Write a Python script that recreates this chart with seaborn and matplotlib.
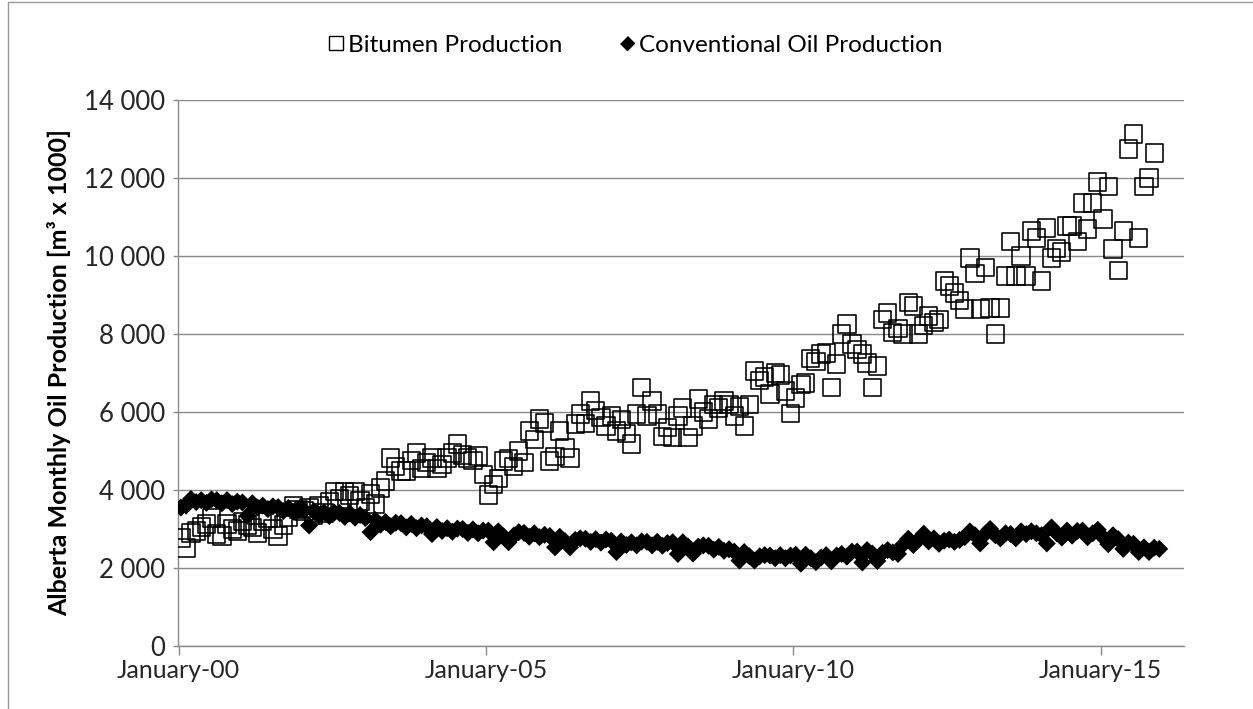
import numpy as np
import pandas as pd
import seaborn as sns
import matplotlib
matplotlib.use("Agg")
import matplotlib.pyplot as plt
import matplotlib.dates as mdates
from matplotlib.ticker import FuncFormatter, MultipleLocator
from matplotlib.lines import Line2D

# Alberta monthly production, thousand m3 (Jan 2000 onwards)
bitumen = [
    2770, 2510, 2900, 2950, 3050, 3130, 3280, 2870, 2820, 3130, 3000, 2950,
    3200, 3100, 3030, 2900, 3200, 3280, 3000, 2820, 3100, 3300, 3590, 3500,
    3460, 3540, 3350, 3600, 3410, 3700, 3970, 3770, 3970, 3850, 3970, 3720,
    3540, 3900, 3640, 4050, 4230, 4820, 4600, 4490, 4490, 4750, 4950, 4560,
    4700, 4820, 4560, 4650, 4820, 4950, 5180, 4900, 4820, 4750, 4870, 4400,
    3870, 4150, 4300, 4740, 4800, 4600, 5000, 4700, 5510, 5300, 5820, 5720,
    4740, 4850, 5510, 5080, 4820, 5690, 5950, 5700, 6280, 6030, 5850, 5640,
    5900, 5510, 5800, 5440, 5180, 5950, 6620, 5900, 6280, 5950, 5380, 5600,
    5340, 5900, 6100, 5340, 5640, 6330, 6000, 5820, 6200, 6100, 6280, 6200,
    5900, 6150, 5640, 6200, 7050, 6800, 6900, 6460, 7000, 6950, 6540, 5970,
    6360, 6700, 6740, 7380, 7300, 7490, 7510, 6620, 7230, 8000, 8260, 7740,
    7600, 7490, 7260, 6620, 7180, 8380, 8540, 8030, 8150, 8000, 8800, 8720,
    8000, 8210, 8460, 8300, 8380, 9360, 9230, 9050, 8850, 8640, 9950, 9560,
    8640, 9700, 8670, 8000, 8670, 9490, 10380, 9490, 10000, 9490, 10640, 10460,
    9360, 10720, 9950, 10200, 10100, 10770, 10770, 10380, 11360, 10690, 11360, 11900,
    10950, 11790, 10180, 9620, 10640, 12740, 13130, 10460, 11790, 12000, 12640,
]

conventional = [
    3550, 3600, 3770, 3690, 3740, 3670, 3760, 3740, 3660, 3740, 3640, 3700,
    3680, 3340, 3660, 3550, 3600, 3510, 3580, 3560, 3460, 3540, 3440, 3500,
    3480, 3090, 3460, 3350, 3430, 3330, 3420, 3410, 3310, 3400, 3290, 3360,
    3280, 2920, 3230, 3110, 3180, 3070, 3160, 3150, 3040, 3130, 3020, 3090,
    3070, 2870, 3050, 2950, 3020, 2930, 3010, 3000, 2900, 2990, 2890, 2960,
    2960, 2660, 2940, 2810, 2660, 2830, 2920, 2900, 2800, 2890, 2790, 2850,
    2820, 2530, 2800, 2690, 2530, 2720, 2760, 2750, 2670, 2740, 2650, 2730,
    2700, 2410, 2680, 2590, 2660, 2580, 2680, 2670, 2580, 2670, 2570, 2640,
    2660, 2360, 2660, 2550, 2370, 2550, 2580, 2570, 2470, 2540, 2440, 2480,
    2420, 2190, 2410, 2300, 2190, 2300, 2330, 2320, 2250, 2330, 2250, 2320,
    2340, 2110, 2340, 2250, 2150, 2270, 2330, 2170, 2320, 2360, 2290, 2420,
    2420, 2140, 2460, 2370, 2180, 2390, 2460, 2400, 2360, 2600, 2750, 2590,
    2730, 2880, 2680, 2760, 2620, 2700, 2730, 2670, 2720, 2790, 2940, 2840,
    2630, 2880, 3000, 2840, 2760, 2890, 2870, 2760, 2940, 2870, 2940, 2890,
    2840, 2630, 3040, 2890, 2780, 2960, 2830, 2950, 2960, 2790, 2890, 2980,
    2790, 2610, 2840, 2740, 2490, 2650, 2620, 2410, 2530, 2410, 2520, 2490,
]

series_labels = ["Bitumen Production", "Conventional Oil Production"]
x_tick_years = [2000, 2005, 2010, 2015]
y_label = "Alberta Monthly Oil Production [m\u00b3 x 1000]"

months = pd.date_range("2000-01-01", periods=len(conventional), freq="MS") + pd.Timedelta(days=14)
bit_df = pd.DataFrame({"month": months[:len(bitumen)], "value": bitumen})
con_df = pd.DataFrame({"month": months, "value": conventional})

sns.set_theme(style="white")
plt.rcParams["font.family"] = ["Lato", "DejaVu Sans"]
plt.rcParams["text.color"] = "black"

W, H = 1253, 709
fig = plt.figure(figsize=(W / 100, H / 100), dpi=100)
fig.patch.set_facecolor("white")
ax = fig.add_axes([178.5 / W, 1 - 646 / H, 1005.5 / W, 546 / H])

grid_c = "#8a8a8a"
diamond = [(0, 1), (1, 0), (0, -1), (-1, 0)]

sns.scatterplot(data=bit_df, x="month", y="value", ax=ax, marker="s", s=155,
                facecolor="none", edgecolor="black", linewidth=1.15, zorder=3)
sns.scatterplot(data=con_df, x="month", y="value", ax=ax, marker=diamond, s=168,
                color="black", edgecolor="none", linewidth=0, zorder=4)

ax.set_xlim(pd.Timestamp("2000-01-01"), pd.Timestamp("2016-05-10"))
ax.set_ylim(0, 14000)
ax.yaxis.set_major_locator(MultipleLocator(2000))
ax.yaxis.set_major_formatter(FuncFormatter(lambda v, p: f"{int(v):,}".replace(",", " ")))
ax.set_xticks([pd.Timestamp(f"{y}-01-01") for y in x_tick_years])
ax.xaxis.set_major_formatter(mdates.DateFormatter("%B-%y"))

ax.set_axisbelow(True)
ax.grid(axis="y", color=grid_c, linewidth=1.0)
ax.grid(axis="x", visible=False)
for side in ["top", "right"]:
    ax.spines[side].set_visible(False)
for side in ["left", "bottom"]:
    ax.spines[side].set_color(grid_c)
    ax.spines[side].set_linewidth(1.0)

ax.tick_params(axis="y", direction="out", length=3.6, width=1.0, color=grid_c,
               pad=6, labelsize=18.5, left=True)
ax.tick_params(axis="x", direction="out", length=6.3, width=1.0, color=grid_c,
               pad=3, labelsize=18, bottom=True)
ax.set_xlabel("")
ax.set_ylabel("")
fig.text(59 / W, 1 - 372 / H, y_label, rotation=90, ha="center", va="center",
         fontsize=18, fontweight="bold")

handles = [
    Line2D([], [], marker="s", linestyle="none", markerfacecolor="none",
           markeredgecolor="black", markeredgewidth=1.0, markersize=9.5),
    Line2D([], [], marker=diamond, linestyle="none", markerfacecolor="black",
           markeredgecolor="black", markersize=10),
]
fig.legend(handles, series_labels, loc="center", bbox_to_anchor=(0.507, 1 - 45 / H),
           ncol=2, frameon=False, fontsize=17.5, handlelength=0.7, handletextpad=0.15,
           columnspacing=2.3, borderaxespad=0)

# chart-area frame (left and top edges)
fig.add_artist(Line2D([7.5 / W, 7.5 / W], [0, 1 - 2 / H], color="#9a9a9a", linewidth=1.0,
                      transform=fig.transFigure))
fig.add_artist(Line2D([7.5 / W, 1], [1 - 2 / H, 1 - 2 / H], color="#9a9a9a", linewidth=1.0,
                      transform=fig.transFigure))

fig.savefig("out.png", dpi=100, facecolor="white")
